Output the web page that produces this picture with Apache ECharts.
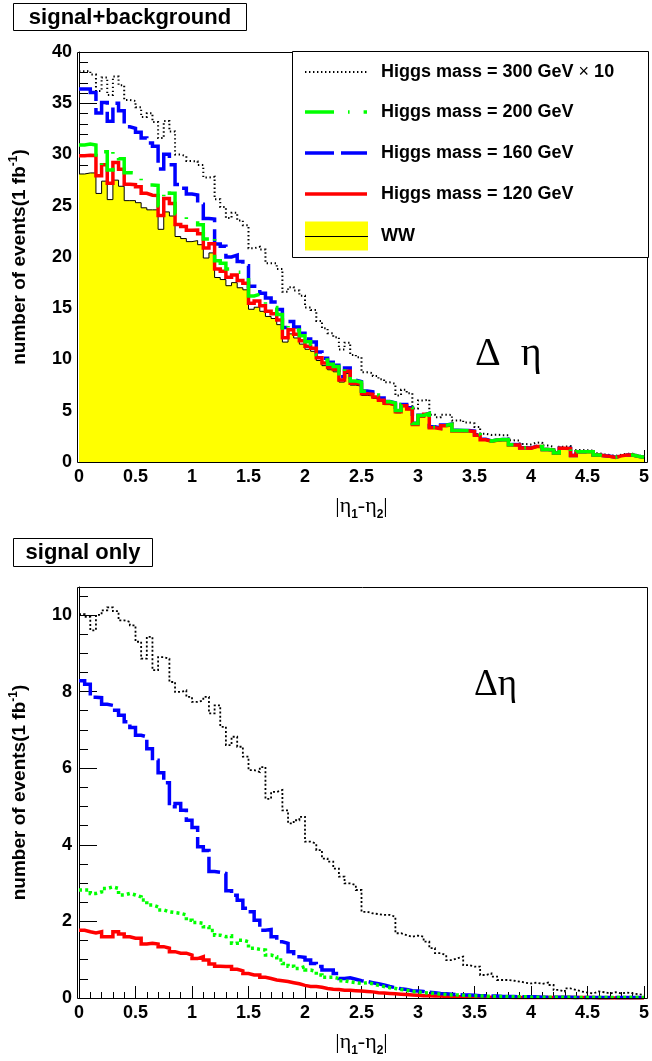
<!DOCTYPE html>
<html>
<head>
<meta charset="utf-8">
<script src="https://cdn.jsdelivr.net/npm/echarts@6/dist/echarts.min.js"></script>
<style>
html,body{margin:0;padding:0;background:#fff;}
#chart{width:652px;height:1061px;}
</style>
</head>
<body>
<div id="chart"></div>
<script>
// ---------------- data (100 bins of width 0.05 in |eta1-eta2|) ----------------
const BIN_WIDTH = 0.05;

const X_TICKS = [0, 0.5, 1, 1.5, 2, 2.5, 3, 3.5, 4, 4.5, 5];
const Y_TICKS_TOP = [0, 5, 10, 15, 20, 25, 30, 35, 40];
const Y_TICKS_BOTTOM = [0, 2, 4, 6, 8, 10];
const Y_MAX_BOTTOM = 10.73;

const PANEL_TITLES = ['signal+background', 'signal only'];
const LEGEND_LABELS = ['Higgs mass = 300 GeV × 10', 'Higgs mass = 200 GeV', 'Higgs mass = 160 GeV', 'Higgs mass = 120 GeV', 'WW'];

// WW background (yellow histogram)
const ww = [
  28.1, 28.2, 28.2, 26.2, 27.4, 25.6, 27.5, 26.9, 25.5, 25.5,
  25.3, 24.8, 24.6, 24.6, 22.7, 24.4, 24.0, 22.0, 21.8, 21.5,
  21.6, 21.2, 19.9, 20.4, 18.0, 17.8, 17.2, 17.5, 17.0, 16.8,
  14.9, 15.1, 14.7, 14.2, 14.0, 13.4, 11.7, 12.5, 12.1, 11.5,
  11.0, 10.8, 9.9, 9.4, 9.0, 8.8, 7.8, 8.65, 7.5, 7.4,
  6.5, 6.45, 6.2, 5.9, 5.6, 5.5, 4.8, 5.4, 5.1, 3.6,
  4.4, 4.6, 3.3, 3.2, 3.5, 3.6, 3.0, 3.0, 3.0, 2.95,
  2.6, 2.15, 2.0, 2.1, 2.15, 2.15, 1.66, 1.66, 1.35, 1.33,
  1.5, 1.5, 1.2, 1.15, 0.85, 1.33, 1.3, 0.62, 1.0, 1.0,
  1.0, 0.68, 0.6, 0.55, 0.45, 0.6, 0.68, 0.68, 0.55, 0.45
];

// Higgs 300 GeV signal, scaled x10
const h300x10 = [
  10.02, 9.95, 9.6, 10.0, 10.12, 10.2, 10.1, 9.86, 9.82, 9.73,
  9.3, 8.86, 9.43, 8.56, 8.9, 8.86, 8.25, 7.99, 8.03, 7.86,
  7.73, 7.77, 7.86, 7.43, 7.64, 7.08, 6.6, 6.82, 6.56, 6.3,
  5.95, 5.9, 6.03, 5.2, 5.38, 5.43, 4.9, 4.56, 4.64, 4.73,
  4.08, 4.03, 3.86, 3.64, 3.56, 3.38, 3.17, 2.99, 2.95, 2.82,
  2.25, 2.21, 2.19, 2.17, 2.17, 2.12, 1.69, 1.64, 1.6, 1.63,
  1.6, 1.47, 1.3, 1.17, 1.12, 0.99, 1.04, 1.08, 0.86, 0.82,
  0.82, 0.6, 0.64, 0.56, 0.47, 0.47, 0.45, 0.43, 0.4, 0.38,
  0.4, 0.37, 0.4, 0.34, 0.21, 0.17, 0.25, 0.21, 0.17, 0.14,
  0.12, 0.17, 0.15, 0.12, 0.15, 0.12, 0.14, 0.12, 0.1, 0.08
];

// Higgs 200 GeV signal
const h200 = [
  2.82, 2.82, 2.73, 2.77, 2.86, 2.90, 2.86, 2.69, 2.73, 2.69,
  2.64, 2.56, 2.43, 2.38, 2.30, 2.25, 2.23, 2.21, 2.17, 2.03,
  1.97, 1.95, 1.86, 1.76, 1.64, 1.60, 1.62, 1.43, 1.51, 1.47,
  1.30, 1.27, 1.25, 1.12, 1.08, 0.99, 0.90, 0.83, 0.77, 0.82,
  0.73, 0.69, 0.60, 0.54, 0.54, 0.51, 0.45, 0.42, 0.40, 0.38,
  0.40, 0.37, 0.33, 0.30, 0.27, 0.25, 0.22, 0.20, 0.17, 0.16,
  0.14, 0.13, 0.12, 0.10, 0.09, 0.08, 0.08, 0.07, 0.06, 0.06,
  0.05, 0.05, 0.04, 0.04, 0.04, 0.03, 0.03, 0.03, 0.03, 0.02,
  0.02, 0.02, 0.02, 0.02, 0.02, 0.02, 0.02, 0.01, 0.01, 0.01,
  0.01, 0.01, 0.01, 0.01, 0.01, 0.01, 0.01, 0.01, 0.01, 0.01
];

// Higgs 160 GeV signal
const h160 = [
  8.28, 8.19, 7.85, 7.84, 7.67, 7.64, 7.51, 7.38, 7.21, 7.06,
  6.86, 6.82, 6.51, 6.21, 5.88, 5.62, 4.99, 5.08, 4.90, 4.64,
  4.45, 3.95, 3.85, 3.30, 3.28, 3.25, 2.80, 2.68, 2.55, 2.34,
  2.25, 2.03, 1.77, 1.79, 1.60, 1.47, 1.43, 1.21, 1.08, 1.06,
  0.99, 0.90, 0.82, 0.73, 0.73, 0.64, 0.51, 0.53, 0.49, 0.45,
  0.43, 0.40, 0.37, 0.34, 0.30, 0.27, 0.24, 0.22, 0.19, 0.18,
  0.17, 0.15, 0.14, 0.12, 0.11, 0.10, 0.09, 0.08, 0.08, 0.07,
  0.06, 0.06, 0.05, 0.05, 0.04, 0.04, 0.04, 0.03, 0.03, 0.03,
  0.03, 0.02, 0.02, 0.02, 0.02, 0.02, 0.02, 0.01, 0.01, 0.01,
  0.01, 0.01, 0.01, 0.01, 0.01, 0.01, 0.01, 0.01, 0.01, 0.01
];

// Higgs 120 GeV signal
const h120 = [
  1.77, 1.73, 1.70, 1.73, 1.60, 1.60, 1.73, 1.67, 1.60, 1.56,
  1.56, 1.41, 1.43, 1.41, 1.34, 1.30, 1.21, 1.17, 1.17, 1.12,
  1.03, 1.08, 0.99, 0.89, 0.83, 0.82, 0.82, 0.75, 0.71, 0.64,
  0.60, 0.60, 0.54, 0.51, 0.47, 0.45, 0.43, 0.40, 0.37, 0.33,
  0.30, 0.30, 0.28, 0.25, 0.23, 0.22, 0.20, 0.20, 0.19, 0.18,
  0.17, 0.16, 0.14, 0.13, 0.12, 0.11, 0.10, 0.09, 0.08, 0.07,
  0.06, 0.06, 0.05, 0.05, 0.04, 0.04, 0.03, 0.03, 0.03, 0.02,
  0.02, 0.02, 0.02, 0.02, 0.02, 0.02, 0.01, 0.01, 0.01, 0.01,
  0.01, 0.01, 0.01, 0.01, 0.01, 0.01, 0.01, 0.01, 0.01, 0.01,
  0.01, 0.0, 0.0, 0.0, 0.0, 0.0, 0.0, 0.0, 0.0, 0.0
];

// ---------------- helpers ----------------
// histogram bins -> step-line points [value, binLowEdge] (+ last upper edge).
// The value column comes first so that ECharts' stacking acts on the value (y) dimension.
function steps(arr) {
  const d = arr.map((v, i) => [v, +(i * BIN_WIDTH).toFixed(3)]);
  d.push([arr[arr.length - 1], +(arr.length * BIN_WIDTH).toFixed(3)]);
  return d;
}
const ENC = { x: 1, y: 0 };

const FONT = '"Liberation Sans", Arial, Helvetica, sans-serif';
const SERIF = '"Liberation Serif", "Times New Roman", serif';

const STY_TOP = {
  h300: { color: '#000000', width: 2, type: [1.4, 2.6] },
  h200: { color: '#00ff00', width: 3.5, type: [29, 14, 1.6, 14] },
  h160: { color: '#0000ff', width: 3.5, type: [29, 7] },
  h120: { color: '#ff0000', width: 3.5, type: 'solid' }
};
const STY_BOT = {
  h300: { color: '#000000', width: 1.8, type: [2, 2.2] },
  h200: { color: '#00ff00', width: 3.5, type: [3, 3.2] },
  h160: { color: '#0000ff', width: 3.5, type: [26, 5] },
  h120: { color: '#ff0000', width: 3.5, type: 'solid' }
};

// grids (pixel layout)
const G1 = { left: 77, top: 52, width: 571, height: 410 };
const G2 = { left: 77, top: 587, width: 571, height: 411 };

function xAxisFor(gi) {
  return {
    gridIndex: gi, type: 'value',
    min: X_TICKS[0], max: X_TICKS[X_TICKS.length - 1], interval: X_TICKS[1] - X_TICKS[0],
    name: '|η{s|1}-η{s|2}|', nameLocation: 'middle', nameGap: 31,
    nameTextStyle: {
      fontFamily: SERIF, fontSize: 22, color: '#000', lineHeight: 26,
      rich: { s: { fontFamily: FONT, fontWeight: 'bold', fontSize: 12, verticalAlign: 'bottom', lineHeight: 14, padding: [0, 0, -2, 0] } }
    },
    axisLine: { show: true, lineStyle: { color: '#000', width: 1 } },
    axisTick: { show: true, inside: true, length: 12, lineStyle: { color: '#000', width: 1 } },
    minorTick: { show: true, splitNumber: 5, length: 6, lineStyle: { color: '#000', width: 1 } },
    splitLine: { show: false },
    axisLabel: {
      margin: 6, color: '#000', fontFamily: FONT, fontWeight: 'bold', fontSize: 18,
      formatter: v => String(v)
    }
  };
}

function yAxisFor(gi, ticks, max, minorSplit) {
  return {
    gridIndex: gi, type: 'value',
    min: ticks[0], max: max, interval: ticks[1] - ticks[0],
    name: 'number of events(1 fb{sup|-1})', nameLocation: 'middle', nameGap: 47,
    nameTextStyle: {
      fontFamily: FONT, fontWeight: 'bold', fontSize: 19, color: '#000', lineHeight: 24,
      rich: { sup: { fontFamily: FONT, fontWeight: 'bold', fontSize: 12, verticalAlign: 'top', lineHeight: 12 } }
    },
    axisLine: { show: true, lineStyle: { color: '#000', width: 1 } },
    axisTick: { show: true, inside: true, length: 18, lineStyle: { color: '#000', width: 1 } },
    minorTick: { show: true, splitNumber: minorSplit, length: 9, lineStyle: { color: '#000', width: 1 } },
    splitLine: { show: false },
    axisLabel: {
      margin: 7, color: '#000', fontFamily: FONT, fontWeight: 'bold', fontSize: 18,
      showMaxLabel: ticks.indexOf(max) >= 0,
      formatter: v => (ticks.indexOf(v) >= 0 ? String(v) : '')
    }
  };
}

function lineSeries(name, data, gi, ls, z, stack) {
  const s = {
    name: name, type: 'line', xAxisIndex: gi, yAxisIndex: gi,
    data: steps(data), encode: ENC, step: 'end', symbol: 'none', showSymbol: false,
    lineStyle: { color: ls.color, width: ls.width, type: ls.type, cap: 'butt', join: 'miter' },
    itemStyle: { color: ls.color },
    z: z, animation: false
  };
  if (stack) s.stack = stack;
  return s;
}
// invisible WW base so that each signal is drawn on top of the background (signal+background)
function baseSeries(stack) {
  return {
    type: 'line', xAxisIndex: 0, yAxisIndex: 0, stack: stack,
    data: steps(ww), encode: ENC, step: 'end', symbol: 'none', silent: true,
    lineStyle: { width: 0, opacity: 0 }, z: 1, animation: false
  };
}

const series = [
  // ---- top: signal + background ----
  {
    name: LEGEND_LABELS[4], type: 'line', xAxisIndex: 0, yAxisIndex: 0,
    data: steps(ww), encode: ENC, step: 'end', symbol: 'none',
    lineStyle: { color: '#000', width: 1 },
    areaStyle: { color: '#ffff00', opacity: 1 },
    z: 2, animation: false
  },
  baseSeries('s300'), lineSeries(LEGEND_LABELS[0], h300x10, 0, STY_TOP.h300, 3, 's300'),
  baseSeries('s160'), lineSeries(LEGEND_LABELS[2], h160, 0, STY_TOP.h160, 4, 's160'),
  baseSeries('s120'), lineSeries(LEGEND_LABELS[3], h120, 0, STY_TOP.h120, 5, 's120'),
  baseSeries('s200'), lineSeries(LEGEND_LABELS[1], h200, 0, STY_TOP.h200, 6, 's200'),
  // ---- bottom: signal only ----
  lineSeries(LEGEND_LABELS[0] + ' ', h300x10, 1, STY_BOT.h300, 3),
  lineSeries(LEGEND_LABELS[3] + ' ', h120, 1, STY_BOT.h120, 4),
  lineSeries(LEGEND_LABELS[2] + ' ', h160, 1, STY_BOT.h160, 5),
  lineSeries(LEGEND_LABELS[1] + ' ', h200, 1, STY_BOT.h200, 6)
];

// ---------------- legend & decorations (graphic) ----------------
const LEG = { x: 292, y: 51, w: 356, h: 206, sx1: 305, sx2: 367, tx: 381, rows: [72, 112, 153, 194, 236] };
const legendStyles = [STY_TOP.h300, STY_TOP.h200, STY_TOP.h160, STY_TOP.h120];
const graphic = [];
graphic.push({ type: 'rect', z: 50, shape: { x: LEG.x + 0.5, y: LEG.y + 0.5, width: LEG.w, height: LEG.h },
  style: { fill: '#fff', stroke: '#000', lineWidth: 1 } });
legendStyles.forEach((ls, i) => {
  graphic.push({ type: 'line', z: 51, shape: { x1: LEG.sx1, y1: LEG.rows[i], x2: LEG.sx2, y2: LEG.rows[i] },
    style: { stroke: ls.color, lineWidth: ls.width, lineDash: Array.isArray(ls.type) ? ls.type : null, lineCap: 'butt' } });
});
graphic.push({ type: 'rect', z: 51, shape: { x: LEG.sx1, y: LEG.rows[4] - 14.5, width: LEG.sx2 - LEG.sx1 + 1, height: 29 },
  style: { fill: '#ffff00' } });
graphic.push({ type: 'line', z: 52, shape: { x1: LEG.sx1, y1: LEG.rows[4] + 0.5, x2: LEG.sx2 + 1, y2: LEG.rows[4] + 0.5 },
  style: { stroke: '#000', lineWidth: 1 } });
LEGEND_LABELS.forEach((t, i) => {
  const txt = t.indexOf('×') >= 0 ? t.replace('×', '{m|×}') : t;
  graphic.push({ type: 'text', z: 52, x: LEG.tx, y: LEG.rows[i],
    style: { text: txt, fill: '#000', fontFamily: FONT, fontWeight: 'bold', fontSize: 18, verticalAlign: 'middle', align: 'left',
      rich: { m: { fontFamily: FONT, fontWeight: 'normal', fontSize: 18, fill: '#000' } } } });
});

// panel title boxes
const TITLE_BOXES = [{ x: 13, y: 3, w: 233, h: 27 }, { x: 13, y: 538, w: 139, h: 28 }];
TITLE_BOXES.forEach((b, i) => {
  graphic.push({ type: 'rect', z: 50, shape: { x: b.x + 0.5, y: b.y + 0.5, width: b.w, height: b.h },
    style: { fill: '#fff', stroke: '#000', lineWidth: 1 } });
  graphic.push({ type: 'text', z: 51, x: b.x + b.w / 2 + 0.5, y: b.y + b.h / 2 + 1,
    style: { text: PANEL_TITLES[i], fill: '#000', fontFamily: FONT, fontWeight: 'bold', fontSize: 22, align: 'center', verticalAlign: 'middle' } });
});

// frames around plot areas (drawn on top of the filled histogram)
[G1, G2].forEach(g => {
  graphic.push({ type: 'rect', z: 40, shape: { x: g.left + 0.5, y: g.top + 0.5, width: g.width - 1, height: g.height },
    style: { fill: 'none', stroke: '#000', lineWidth: 1 } });
});

// Delta eta annotations
graphic.push({ type: 'text', z: 45, x: 475, y: 354,
  style: { text: 'Δ  η', fill: '#000', fontFamily: SERIF, fontSize: 40, verticalAlign: 'middle', align: 'left' } });
graphic.push({ type: 'text', z: 45, x: 474, y: 685,
  style: { text: 'Δη', fill: '#000', fontFamily: SERIF, fontSize: 37, verticalAlign: 'middle', align: 'left' } });

const option = {
  animation: false,
  backgroundColor: '#ffffff',
  grid: [
    Object.assign({ show: false, containLabel: false }, G1),
    Object.assign({ show: false, containLabel: false }, G2)
  ],
  xAxis: [xAxisFor(0), xAxisFor(1)],
  yAxis: [
    yAxisFor(0, Y_TICKS_TOP, Y_TICKS_TOP[Y_TICKS_TOP.length - 1], 5),
    yAxisFor(1, Y_TICKS_BOTTOM, Y_MAX_BOTTOM, 4)
  ],
  series: series,
  graphic: graphic
};

const chart = echarts.init(document.getElementById('chart'), null, { renderer: 'canvas' });
chart.setOption(option);
</script>
</body>
</html>
